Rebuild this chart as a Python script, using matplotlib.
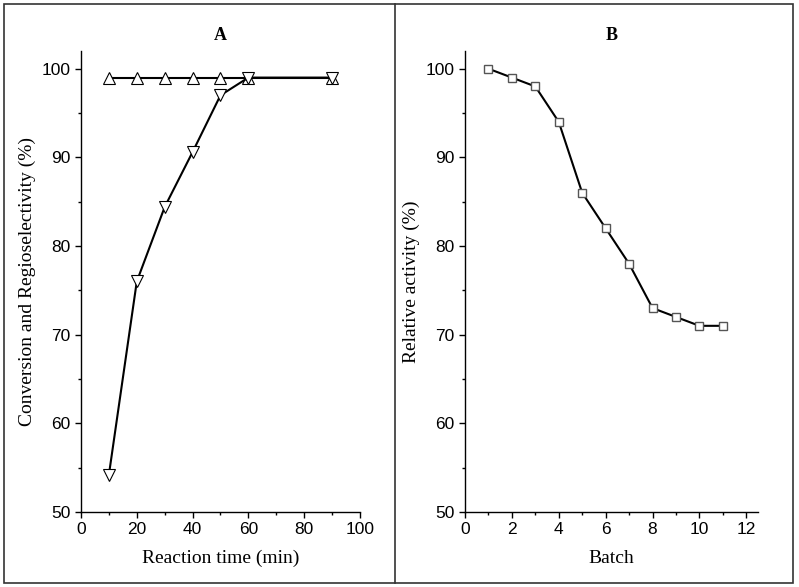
import numpy as np
import matplotlib.pyplot as plt
from matplotlib.lines import Line2D
from matplotlib.patches import Rectangle
from matplotlib.ticker import MultipleLocator


# -----------------------------
# Data
# -----------------------------
TIME_MIN = [10, 20, 30, 40, 50, 60, 90]
CONVERSION = [54.2, 76.0, 84.4, 90.6, 97.0, 99.0, 99.0]
REGIOSELECTIVITY = [99, 99, 99, 99, 99, 99, 99]

BATCH = [1, 2, 3, 4, 5, 6, 7, 8, 9, 10, 11]
RELATIVE_ACTIVITY = [100, 99, 98, 94, 86, 82, 78, 73, 72, 71, 71]

SERIF = "Liberation Serif"
SANS = "Liberation Sans"


def style_axis(ax, xmajor, xminor):
    ax.spines["top"].set_visible(False)
    ax.spines["right"].set_visible(False)
    for side in ("left", "bottom"):
        ax.spines[side].set_linewidth(1.0)
    ax.xaxis.set_major_locator(MultipleLocator(xmajor))
    ax.xaxis.set_minor_locator(MultipleLocator(xminor))
    ax.yaxis.set_major_locator(MultipleLocator(10))
    ax.yaxis.set_minor_locator(MultipleLocator(5))
    ax.tick_params(which="major", direction="out", length=4, width=1,
                   labelsize=12.5)
    ax.tick_params(which="minor", direction="out", length=2.5, width=1)
    for lbl in ax.get_xticklabels() + ax.get_yticklabels():
        lbl.set_fontfamily(SANS)


fig = plt.figure(figsize=(7.99, 5.87), dpi=100)

# -----------------------------
# Panel A
# -----------------------------
ax_a = fig.add_axes([0.1014, 0.1278, 0.349, 0.7853])
ax_a.plot(TIME_MIN, REGIOSELECTIVITY, color="black", lw=1.5,
          marker="^", markersize=9, markerfacecolor="white",
          markeredgecolor="black", markeredgewidth=0.8)
ax_a.plot(TIME_MIN, CONVERSION, color="black", lw=1.5,
          marker="v", markersize=9, markerfacecolor="white",
          markeredgecolor="black", markeredgewidth=0.8)
ax_a.set_xlim(0, 100)
ax_a.set_ylim(50, 102)
style_axis(ax_a, 20, 10)
ax_a.set_xlabel("Reaction time (min)", fontsize=14, fontfamily=SERIF,
                labelpad=9)
ax_a.set_ylabel("Conversion and Regioselectivity (%)", fontsize=14,
                fontfamily=SERIF)
ax_a.set_title("A", fontsize=13, fontweight="bold", fontfamily=SERIF,
               pad=8)

# -----------------------------
# Panel B
# -----------------------------
ax_b = fig.add_axes([0.582, 0.1278, 0.3667, 0.7853])
ax_b.plot(BATCH, RELATIVE_ACTIVITY, color="black", lw=1.5,
          marker="s", markersize=6, markerfacecolor="white",
          markeredgecolor="#555555", markeredgewidth=1.0)
ax_b.set_xlim(0, 12.5)
ax_b.set_ylim(50, 102)
style_axis(ax_b, 2, 1)
ax_b.set_xlabel("Batch", fontsize=14, fontfamily=SERIF, labelpad=9)
ax_b.set_ylabel("Relative activity (%)", fontsize=14, fontfamily=SERIF)
ax_b.set_title("B", fontsize=13, fontweight="bold", fontfamily=SERIF,
               pad=8)

# -----------------------------
# Frame and divider
# -----------------------------
W, H = 799.0, 587.0
fig.add_artist(Rectangle((4 / W, 4 / H), (793 - 4) / W, (583 - 4) / H,
                         transform=fig.transFigure, fill=False,
                         edgecolor="#333333", lw=1.2))
fig.add_artist(Line2D([395 / W, 395 / W], [4 / H, 583 / H],
                      transform=fig.transFigure, color="#333333", lw=1.2))

plt.savefig("out.png", dpi=100)
plt.close()
